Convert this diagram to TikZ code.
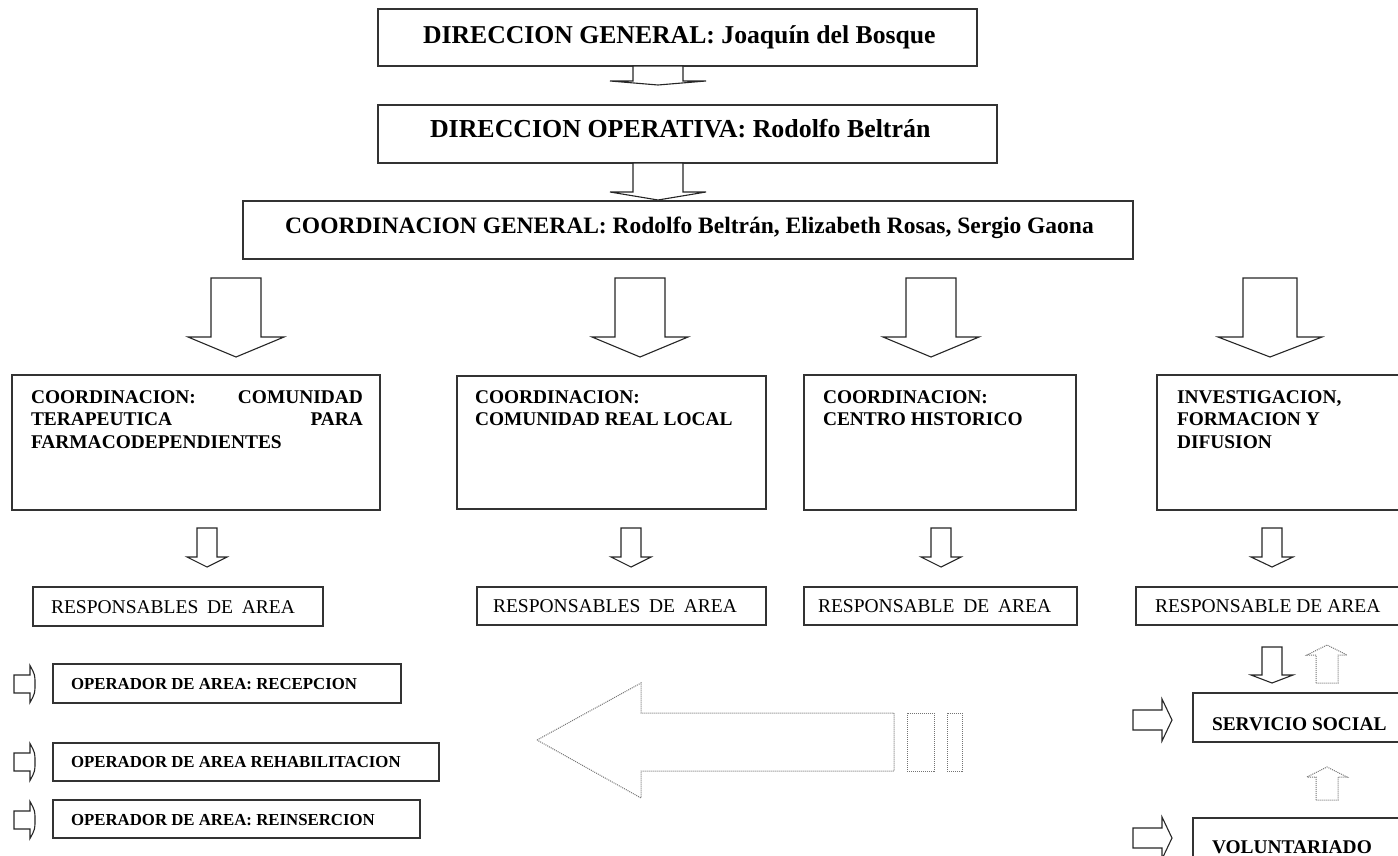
\documentclass[tikz,border=0pt]{standalone}
\usepackage{fontspec}
\setmainfont{Liberation Serif}
\tikzset{
  box/.style={draw=black!80, line width=1.1pt, inner sep=0pt, outer sep=0pt, anchor=north west},
  blk/.style={draw=black!85, line width=1.1pt, fill=white, line join=miter},
  dots/.style={draw=black!55, line width=1pt, dash pattern=on 1pt off 1pt},
  txt/.style={inner sep=0pt, outer sep=0pt, anchor=base west},
  ftop/.style={font=\fontsize{25.7pt}{30pt}\selectfont\bfseries},
  fbox/.style={font=\fontsize{19.4pt}{23pt}\selectfont\bfseries},
  fres/.style={font=\fontsize{19.5pt}{23pt}\selectfont},
  fop/.style={font=\fontsize{16.8pt}{20pt}\selectfont\bfseries}
}
\newcommand\dnblk[6]{\draw[blk] (#1-#5,#2) -- (#1-#5,#3) -- (#1-#6,#3) -- (#1,#4) -- (#1+#6,#3) -- (#1+#5,#3) -- (#1+#5,#2) -- cycle;}
\newcommand\upblk[6]{\draw[dots] (#1-#5,#2) -- (#1-#5,#3) -- (#1-#6,#3) -- (#1,#4) -- (#1+#6,#3) -- (#1+#5,#3) -- (#1+#5,#2) -- cycle;}
\newcommand\rtblk[6]{\draw[blk] (#1,#4-#5) -- (#2,#4-#5) -- (#2,#4-#6) -- (#3,#4) -- (#2,#4+#6) -- (#2,#4+#5) -- (#1,#4+#5) -- cycle;}
\newcommand\rtcurl[6]{\draw[blk] (#1,#4-#5) -- (#2,#4-#5) -- (#2,#4-#6) .. controls (#3,#4-#6/2) .. (#3,#4) .. controls (#3,#4+#6/2) .. (#2,#4+#6) -- (#2,#4+#5) -- (#1,#4+#5) -- cycle;}
\begin{document}
\begin{tikzpicture}[x=1pt,y=-1pt]
\useasboundingbox (0,0) rectangle (1398,855);
\clip (0,0) rectangle (1398,855);
% top boxes
\node[box, minimum width=599pt, minimum height=57pt] (dg) at (378,9) {};
\node[box, minimum width=619pt, minimum height=58pt] (do) at (378,105) {};
\node[box, minimum width=890pt, minimum height=58pt] (cg) at (243,201) {};
\node[txt, ftop] (dgt) at (423,43) {DIRECCION GENERAL: Joaquín del Bosque};
\node[txt, font=\fontsize{25.9pt}{30pt}\selectfont\bfseries] (dot) at (430,137) {DIRECCION OPERATIVA: Rodolfo Beltrán};
\node[txt, font=\fontsize{23.5pt}{30pt}\selectfont\bfseries] (cgt) at (285,233) {COORDINACION GENERAL: Rodolfo Beltrán, Elizabeth Rosas, Sergio Gaona};
\dnblk{658}{66}{81}{85}{25}{48}
\dnblk{658}{163}{192}{200}{25}{48}
% big arrows
\dnblk{236}{278}{337}{357}{25}{48}
\dnblk{640}{278}{337}{357}{25}{48}
\dnblk{931}{278}{337}{357}{25}{48}
\dnblk{1270}{278}{337}{357}{27}{52}
% coordination boxes
\node[box, minimum width=368pt, minimum height=135pt] (c1) at (12,375) {};
\node[box, minimum width=309pt, minimum height=133pt] (c2) at (457,376) {};
\node[box, minimum width=272pt, minimum height=135pt] (c3) at (804,375) {};
\node[box, minimum width=260pt, minimum height=135pt] (c4) at (1157,375) {};
\node[txt, fbox] (c1a) at (31,403) {\makebox[332pt][s]{COORDINACION:\hfill COMUNIDAD}};
\node[txt, fbox] (c1b) at (31,425.5) {\makebox[332pt][s]{TERAPEUTICA\hfill PARA}};
\node[txt, fbox] (c1c) at (31,448) {FARMACODEPENDIENTES};
\node[txt, fbox] (c2a) at (475,403) {COORDINACION:};
\node[txt, fbox] (c2b) at (475,425.5) {COMUNIDAD REAL LOCAL};
\node[txt, fbox] (c3a) at (823,403) {COORDINACION:};
\node[txt, fbox] (c3b) at (823,425.5) {CENTRO HISTORICO};
\node[txt, fbox] (c4a) at (1177,403) {INVESTIGACION,};
\node[txt, fbox] (c4b) at (1177,425.5) {FORMACION Y};
\node[txt, fbox] (c4c) at (1177,448) {DIFUSION};
% small arrows
\dnblk{207}{528}{557}{567}{10}{20}
\dnblk{631}{528}{557}{567}{10}{20}
\dnblk{941}{528}{557}{567}{10}{20}
\dnblk{1272}{528}{557}{567}{10}{21}
% responsables
\node[box, minimum width=290pt, minimum height=39pt] (r1) at (33,587) {};
\node[box, minimum width=289pt, minimum height=38pt] (r2) at (477,587) {};
\node[box, minimum width=273pt, minimum height=38pt] (r3) at (804,587) {};
\node[box, minimum width=270pt, minimum height=38pt] (r4) at (1136,587) {};
\node[txt, fres] (r1t) at (51,613) {RESPONSABLES\hspace{0.45em}DE\hspace{0.45em}AREA};
\node[txt, fres] (r2t) at (493,612) {RESPONSABLES\hspace{0.45em}DE\hspace{0.45em}AREA};
\node[txt, fres] (r3t) at (818,612) {RESPONSABLE\hspace{0.45em}DE\hspace{0.45em}AREA};
\node[txt, fres] (r4t) at (1155,612) {RESPONSABLE DE AREA};
% operadores
\node[box, minimum width=348pt, minimum height=39pt] (o1) at (53,664) {};
\node[box, minimum width=386pt, minimum height=38pt] (o2) at (53,743) {};
\node[box, minimum width=367pt, minimum height=38pt] (o3) at (53,800) {};
\node[txt, fop] (o1t) at (71,689) {OPERADOR DE AREA: RECEPCION};
\node[txt, fop] (o2t) at (71,767) {OPERADOR DE AREA REHABILITACION};
\node[txt, fop] (o3t) at (71,825) {OPERADOR DE AREA: REINSERCION};
\rtcurl{14}{30}{35}{684}{9}{18.5}
\rtcurl{14}{30}{35}{762}{9}{18.5}
\rtcurl{14}{30}{35}{820}{9}{18.5}
% big dotted arrow
\draw[dots] (537,740) -- (641,683) -- (641,713) -- (894,713) -- (894,771) -- (641,771) -- (641,798) -- cycle;
\draw[dots] (907,713) rectangle (934,771);
\draw[dots] (947,713) rectangle (962,771);
% right column
\dnblk{1272}{647}{675}{683}{10}{21}
\upblk{1327}{683}{655}{645}{11}{20}
\upblk{1327}{800}{777}{767}{11}{20}
\node[box, minimum width=215pt, minimum height=49pt] (ss) at (1193,693) {};
\node[box, minimum width=215pt, minimum height=60pt] (vo) at (1193,818) {};
\node[txt, fbox] (sst) at (1212,730) {SERVICIO SOCIAL};
\node[txt, fbox] (vot) at (1212,853) {VOLUNTARIADO};
\rtblk{1133}{1162}{1172}{720}{10}{21}
\rtblk{1133}{1162}{1172}{838}{10}{21}
\end{tikzpicture}
\end{document}
